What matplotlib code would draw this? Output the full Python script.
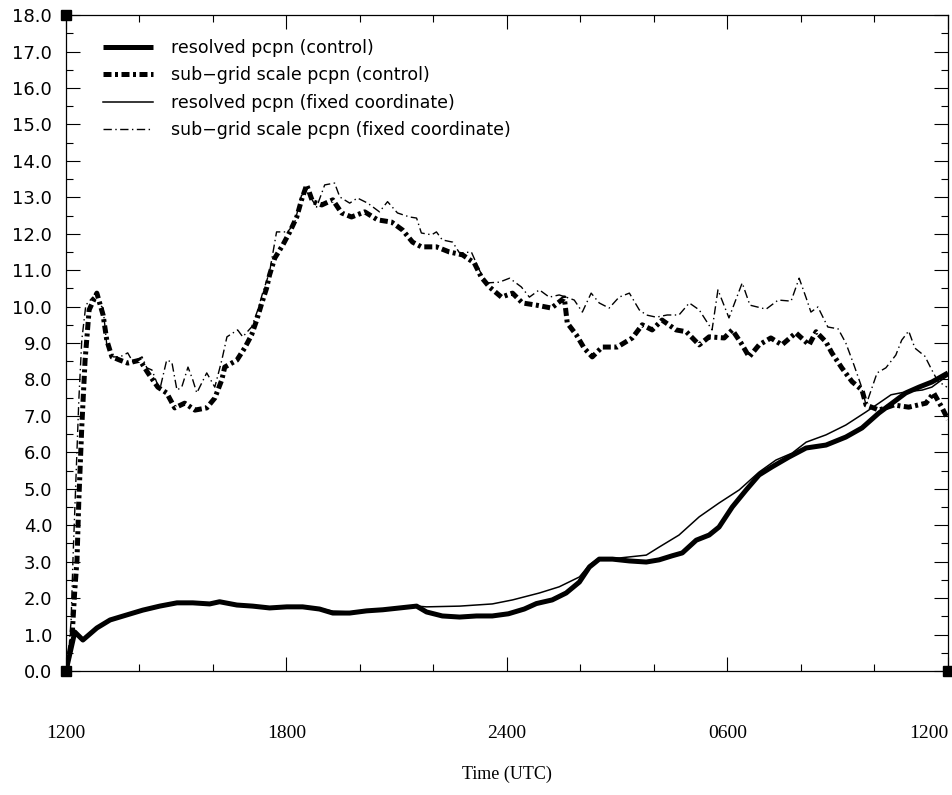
import matplotlib
matplotlib.use("Agg")
import matplotlib.pyplot as plt
from matplotlib.ticker import MultipleLocator, FormatStrFormatter

# hours after 1200 UTC and precipitation values
t_res = [0.0, 0.24, 0.46, 0.84, 1.20, 1.66, 2.09, 2.55, 3.02, 3.45, 3.91, 4.18,
         4.65, 5.08, 5.54, 6.01, 6.44, 6.90, 7.26, 7.72, 8.18, 8.62, 9.08, 9.54,
         9.81, 10.24, 10.71, 11.17, 11.60, 12.04, 12.47, 12.80, 13.23, 13.61,
         13.97, 14.24, 14.51, 14.87, 15.33, 15.79, 16.14, 16.49, 16.77, 17.15,
         17.50, 17.77, 18.13, 18.51, 18.86, 19.21, 19.67, 20.14, 20.68, 21.22,
         21.66, 22.12, 22.48, 22.85, 23.21, 23.56, 24.0]
res_control = [0.0, 1.07, 0.85, 1.18, 1.40, 1.54, 1.67, 1.78, 1.87, 1.87, 1.84, 1.90,
               1.81, 1.78, 1.73, 1.76, 1.76, 1.70, 1.59, 1.59, 1.65, 1.68, 1.73, 1.78,
               1.62, 1.51, 1.48, 1.51, 1.51, 1.57, 1.70, 1.85, 1.95, 2.14,
               2.44, 2.85, 3.07, 3.07, 3.02, 2.99, 3.05, 3.16, 3.24, 3.59,
               3.73, 3.95, 4.50, 4.97, 5.38, 5.60, 5.87, 6.12, 6.20, 6.42,
               6.67, 7.08, 7.35, 7.63, 7.79, 7.93, 8.18]

t_res_fixed = [0.0, 0.24, 0.46, 0.84, 1.20, 1.66, 2.09, 2.55, 3.02, 3.45, 3.91, 4.18,
               4.65, 5.08, 5.54, 6.01, 6.44, 6.90, 7.26, 7.72, 8.18, 8.62, 9.08, 9.54,
               9.81, 10.71, 11.60, 12.15, 12.88, 13.42, 13.97, 14.24, 14.51, 15.05,
               15.79, 16.14, 16.68, 17.23, 17.77, 18.32, 18.86, 19.32, 19.76, 20.14,
               20.68, 21.22, 21.77, 22.12, 22.45, 22.85, 23.30, 23.56, 23.83, 24.0]
res_fixed = [0.0, 1.07, 0.85, 1.18, 1.40, 1.54, 1.67, 1.78, 1.87, 1.87, 1.84, 1.90,
             1.81, 1.78, 1.73, 1.76, 1.76, 1.72, 1.64, 1.62, 1.66, 1.69, 1.74, 1.78,
             1.76, 1.78, 1.84, 1.95, 2.14, 2.31, 2.58, 2.91, 3.10, 3.10,
             3.18, 3.40, 3.73, 4.23, 4.61, 4.97, 5.46, 5.79, 5.98, 6.28,
             6.48, 6.75, 7.11, 7.35, 7.58, 7.66, 7.71, 7.79, 7.99, 8.10]

t_sub = [0.0, 0.16, 0.24, 0.30, 0.35, 0.43, 0.52, 0.63, 0.84, 1.01, 1.11, 1.25,
         1.47, 1.68, 2.01, 2.23, 2.50, 2.74, 2.96, 3.23, 3.51, 3.83, 4.05, 4.24,
         4.32, 4.65, 4.86, 5.05, 5.19, 5.33, 5.46, 5.54, 5.68, 5.90, 6.09, 6.28,
         6.41, 6.55, 6.71, 6.96, 7.26, 7.50, 7.77, 8.13, 8.48, 8.86, 9.16, 9.43,
         9.67, 10.08, 10.43, 10.79, 11.11, 11.30, 11.52, 11.85, 12.15, 12.42,
         12.80, 13.21, 13.56, 13.64, 13.89, 14.10, 14.32, 14.59, 15.00, 15.41,
         15.68, 15.95, 16.22, 16.60, 16.88, 17.23, 17.50, 17.91, 18.13, 18.37,
         18.59, 18.86, 19.18, 19.48, 19.86, 20.22, 20.41, 20.68, 20.84, 21.11,
         21.39, 21.66, 21.77, 22.12, 22.53, 22.93, 23.40, 23.61, 23.83, 24.0]
sub_control = [0.0, 0.85, 2.22, 3.05, 4.69, 6.70, 8.53, 9.91, 10.37, 9.77, 9.08, 8.62,
               8.53, 8.45, 8.53, 8.18, 7.79, 7.63, 7.22, 7.35, 7.16, 7.22, 7.49, 7.99,
               8.34, 8.53, 8.86, 9.22, 9.63, 10.10, 10.51, 10.87, 11.33, 11.69, 12.05, 12.46,
               12.93, 13.34, 12.88, 12.79, 12.93, 12.57, 12.46, 12.60, 12.38, 12.32, 12.10, 11.77,
               11.64, 11.64, 11.50, 11.42, 11.20, 10.81, 10.54, 10.26, 10.37, 10.10,
               10.04, 9.96, 10.24, 9.55, 9.22, 8.86, 8.62, 8.89, 8.89, 9.14,
               9.50, 9.36, 9.63, 9.36, 9.31, 8.95, 9.17, 9.14, 9.36, 9.00,
               8.62, 8.95, 9.14, 8.95, 9.28, 8.95, 9.31, 9.03, 8.73, 8.32,
               7.94, 7.71, 7.30, 7.16, 7.30, 7.24, 7.35, 7.63, 7.24, 6.90]

t_sub_fixed = [0.05, 0.14, 0.19, 0.27, 0.35, 0.43, 0.54, 0.73, 1.01, 1.11, 1.28, 1.47,
               1.68, 1.82, 2.07, 2.20, 2.34, 2.55, 2.74, 2.88, 3.02, 3.15, 3.32, 3.45,
               3.56, 3.83, 4.05, 4.24, 4.38, 4.67, 4.81, 5.05, 5.22, 5.35, 5.54, 5.73,
               6.03, 6.22, 6.41, 6.58, 6.82, 7.04, 7.31, 7.45, 7.72, 7.93, 8.21, 8.53,
               8.75, 9.02, 9.35, 9.54, 9.67, 9.95, 10.08, 10.24, 10.52, 10.71, 11.03,
               11.25, 11.44, 11.79, 12.07, 12.39, 12.61, 12.88, 13.15, 13.42, 13.61,
               13.83, 14.05, 14.29, 14.51, 14.78, 15.05, 15.33, 15.60, 15.79, 16.06,
               16.36, 16.68, 16.96, 17.23, 17.58, 17.74, 18.04, 18.40, 18.61, 19.05,
               19.38, 19.73, 19.95, 20.14, 20.27, 20.46, 20.73, 21.01, 21.22, 21.44,
               21.63, 21.77, 22.07, 22.31, 22.58, 22.74, 22.93, 23.10, 23.37, 23.56,
               23.72, 23.97]
sub_fixed = [0.16, 1.40, 3.05, 5.24, 7.44, 9.08, 10.04, 10.26, 9.96, 8.95, 8.62, 8.62,
             8.73, 8.48, 8.62, 8.32, 8.26, 7.71, 8.53, 8.48, 7.71, 7.79, 8.34, 7.99,
             7.63, 8.18, 7.79, 8.53, 9.17, 9.36, 9.17, 9.44, 9.91, 10.37, 10.95, 12.05,
             12.05, 12.29, 13.06, 13.12, 12.73, 13.34, 13.39, 13.01, 12.84, 12.98, 12.84, 12.60,
             12.88, 12.57, 12.46, 12.43, 12.02, 11.97, 12.05, 11.83, 11.77, 11.47, 11.50,
             11.00, 10.65, 10.67, 10.78, 10.54, 10.26, 10.46, 10.26, 10.32, 10.26,
             10.18, 9.85, 10.37, 10.10, 9.96, 10.26, 10.37, 9.91, 9.77, 9.71,
             9.77, 9.77, 10.10, 9.91, 9.36, 10.46, 9.69, 10.65, 10.04, 9.93,
             10.18, 10.15, 10.78, 10.24, 9.85, 9.99, 9.44, 9.39, 9.00, 8.40,
             7.85, 7.30, 8.18, 8.32, 8.67, 9.08, 9.33, 8.86, 8.64, 8.26,
             7.96, 7.79]

xtick_pos = [0, 6, 12, 18, 24]
xtick_labels = ['1200', '1800', '2400', '0600', '1200']

fig = plt.figure(figsize=(9.52, 7.95), dpi=100)
ax = fig.add_axes([0.0693, 0.156, 0.9265, 0.825])

ax.plot(t_res, res_control, color='black', lw=3.6, solid_capstyle='butt',
        label='resolved pcpn (control)')
ax.plot(t_sub, sub_control, color='black', lw=3.6, dash_capstyle='butt',
        linestyle=(0, (1.6, 0.7, 0.6, 0.7)),
        label='sub\u2212grid scale pcpn (control)')
ax.plot(t_res_fixed, res_fixed, color='black', lw=1.1,
        label='resolved pcpn (fixed coordinate)')
ax.plot(t_sub_fixed, sub_fixed, color='black', lw=1.0,
        linestyle=(0, (6, 2.5, 1, 2.5)),
        label='sub\u2212grid scale pcpn (fixed coordinate)')

# little black squares on three corners, as in the original plot
ax.plot([0, 0, 1], [1, 0, 0], 's', color='black', ms=7,
        transform=ax.transAxes, clip_on=False)

ax.set_xlim(0, 24)
ax.set_ylim(0, 18)

ax.yaxis.set_major_locator(MultipleLocator(1.0))
ax.yaxis.set_minor_locator(MultipleLocator(0.5))
ax.yaxis.set_major_formatter(FormatStrFormatter('%.1f'))
ax.set_xticks(xtick_pos)
ax.xaxis.set_minor_locator(MultipleLocator(2))

ax.tick_params(which='both', direction='in', top=True, right=True, width=0.8)
ax.tick_params(which='major', length=10)
ax.tick_params(which='minor', length=5)
ax.tick_params(axis='y', labelsize=13, pad=10)
ax.set_xticklabels(xtick_labels, fontfamily='Liberation Serif', fontsize=14)
ax.tick_params(axis='x', pad=39)
ax.get_xticklabels()[-1].set_horizontalalignment('right')

for s in ax.spines.values():
    s.set_linewidth(0.9)

ax.set_xlabel('Time (UTC)', fontfamily='Liberation Serif', fontsize=13, labelpad=17)

ax.legend(loc='upper left', bbox_to_anchor=(0.042, 0.964), frameon=False,
          fontsize=12.5, handlelength=2.9, handletextpad=1.0, labelspacing=0.55,
          borderpad=0, borderaxespad=0)

fig.savefig('out.png', dpi=100)
